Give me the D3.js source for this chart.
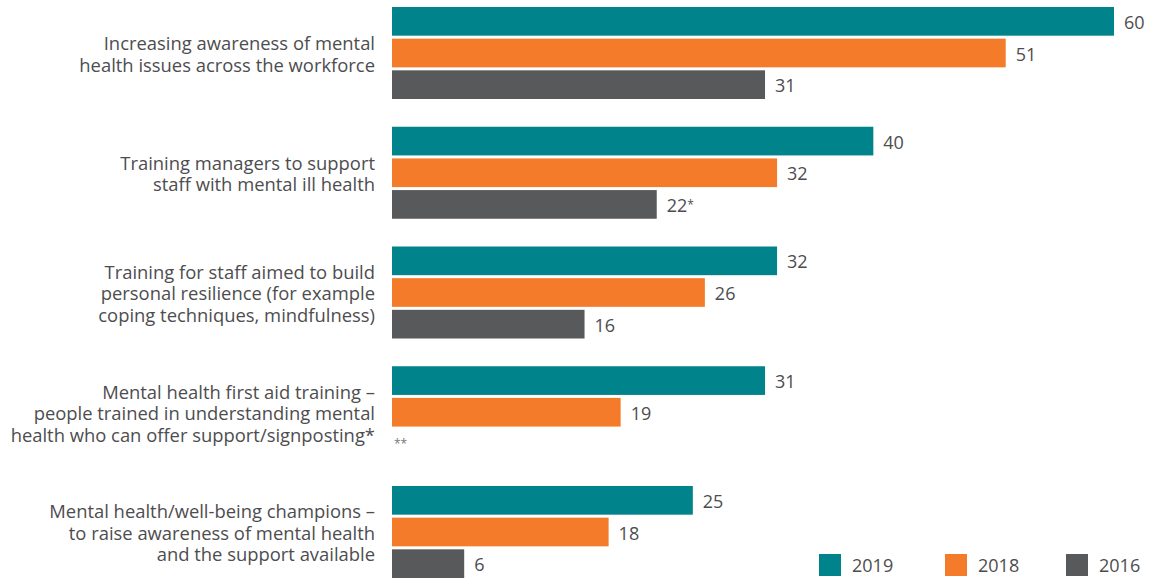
<!DOCTYPE html>
<html>
<head>
<meta charset="utf-8">
<script src="https://cdn.jsdelivr.net/npm/d3@7"></script>
<style>
  html, body { margin: 0; padding: 0; background: #fff; }
  svg { display: block; font-family: "Open Sans", sans-serif; }
</style>
</head>
<body>
<svg id="chart" width="1160" height="581"></svg>
<script>
// Categories (each label split into its printed lines)
const categories = [
  ["Increasing awareness of mental", "health issues across the workforce"],
  ["Training managers to support", "staff with mental ill health"],
  ["Training for staff aimed to build", "personal resilience (for example", "coping techniques, mindfulness)"],
  ["Mental health first aid training \u2013", "people trained in understanding mental", "health who can offer support/signposting*"],
  ["Mental health/well-being champions \u2013", "to raise awareness of mental health", "and the support available"]
];
const series = ["2019", "2018", "2016"];
const values2019 = [60, 40, 32, 31, 25];
const values2018 = [51, 32, 26, 19, 18];
const values2016 = [31, 22, 16, null, 6];
const notes2016 = ["", "*", "", "**", ""];
const colors = ["#00838a", "#f47b2a", "#58595b"];

const svg = d3.select("#chart");
const textColor = "#4d4d4f";

const x = d3.scaleLinear().domain([0, 60]).range([392, 1114]);
const catIdx = categories.map((d, i) => i);
const y0 = d3.scaleBand().domain(catIdx).range([7, 578]).paddingInner(0.2317).paddingOuter(0);
const y1 = d3.scaleBand().domain(series).range([0, y0.bandwidth()]).paddingInner(0.094).paddingOuter(0);
const color = d3.scaleOrdinal().domain(series).range(colors);

const rows = [];
catIdx.forEach(i => {
  [values2019, values2018, values2016].forEach((vals, s) => {
    rows.push({ cat: i, series: series[s], value: vals[i], note: s === 2 ? notes2016[i] : "" });
  });
});

const g = svg.append("g");

// bars
g.selectAll("rect.bar")
  .data(rows.filter(d => d.value != null))
  .join("rect")
  .attr("class", "bar")
  .attr("x", x(0))
  .attr("y", d => y0(d.cat) + y1(d.series))
  .attr("width", d => x(d.value) - x(0))
  .attr("height", y1.bandwidth())
  .attr("fill", d => color(d.series));

// value labels
const vl = g.selectAll("text.val")
  .data(rows.filter(d => d.value != null))
  .join("text")
  .attr("class", "val")
  .attr("x", d => x(d.value) + 10)
  .attr("y", d => y0(d.cat) + y1(d.series) + y1.bandwidth() / 2)
  .attr("dy", "0.42em")
  .attr("fill", textColor)
  .style("font-size", "18px");
vl.append("tspan").text(d => d.value);
vl.append("tspan")
  .attr("dy", "-0.25em")
  .style("font-size", "12px")
  .text(d => d.note);

// note where the 2016 bar is not available
g.selectAll("text.na")
  .data(rows.filter(d => d.value == null))
  .join("text")
  .attr("class", "na")
  .attr("x", x(0) + 2)
  .attr("y", d => y0(d.cat) + y1(d.series) + y1.bandwidth() / 2 + 4)
  .attr("fill", "#777")
  .style("font-size", "12px")
  .text(d => d.note);

// category labels
const lineH = 21.5;
const cl = g.selectAll("text.cat")
  .data(categories)
  .join("text")
  .attr("class", "cat")
  .attr("text-anchor", "end")
  .attr("fill", textColor)
  .style("font-size", "18.4px")
  .attr("transform", (d, i) => `translate(375, ${y0(i) + y0.bandwidth() / 2 + 1.5 - (d.length - 1) * lineH / 2})`);
cl.selectAll("tspan")
  .data(d => d)
  .join("tspan")
  .attr("x", 0)
  .attr("y", (d, j) => j * lineH)
  .attr("dy", "0.35em")
  .text(d => d);

// legend
const legendX = [819, 945, 1066];
const lg = svg.append("g").selectAll("g")
  .data(series)
  .join("g")
  .attr("transform", (d, i) => `translate(${legendX[i]}, 554)`);
lg.append("rect").attr("width", 22).attr("height", 22).attr("fill", d => color(d));
lg.append("text")
  .attr("x", 33)
  .attr("y", 11)
  .attr("dy", "0.4em")
  .attr("fill", textColor)
  .style("font-size", "18px")
  .text(d => d);
</script>
</body>
</html>
